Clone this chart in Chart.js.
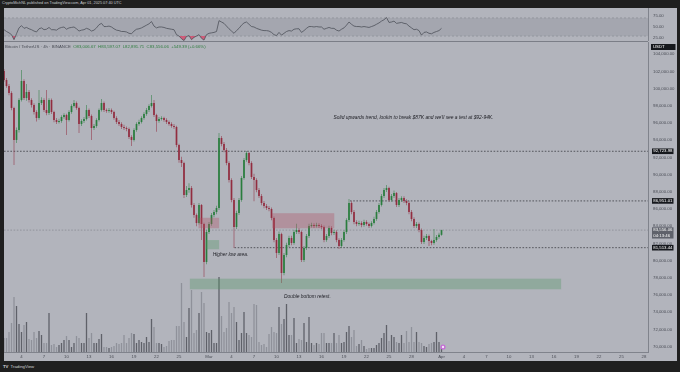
<!DOCTYPE html>
<html lang="en">
<head>
<meta charset="UTF-8" />
<title>BTCUSDT chart</title>
<script src="https://cdn.jsdelivr.net/npm/chart.js@4.4.1/dist/chart.umd.min.js"></script>
<style>
  body { margin:0; width:680px; height:372px; background:#1f1f1f; position:relative; overflow:hidden; font-family:"Liberation Sans", Arial, sans-serif; }
  #pane { position:absolute; left:4px; top:8px; width:673px; height:353px; background:#b2b4bc; }
  #rsi { position:absolute; left:4px; top:8px; }
  #main { position:absolute; left:4px; top:42px; }
  #sep { position:absolute; left:4px; top:41px; width:644px; height:1px; background:#7b7e87; }
  #head { position:absolute; left:2px; top:1px; font-size:3.8px; color:#c8cad0; white-space:nowrap; }
  #legend { position:absolute; left:5px; top:44px; font-size:4.3px; color:#4a4d56; white-space:nowrap; }
  #legend span { color:#2f7d3f; }
  #foot { position:absolute; left:3px; top:364px; font-size:4.3px; color:#cfd1d6; white-space:nowrap; }
  #foot b { font-weight:bold; margin-right:2px; }
</style>
</head>
<body>
<div id="pane"></div>
<div id="head">CryptoMichNL published on TradingView.com, Apr 01, 2025 07:40 UTC</div>
<canvas id="rsi" width="673" height="33"></canvas>
<div id="sep"></div>
<canvas id="main" width="673" height="319"></canvas>
<div id="legend">Bitcoin / TetherUS · 4h · BINANCE &nbsp;<span>O83,006.67 &nbsp;H83,597.07 &nbsp;L82,891.71 &nbsp;C83,556.06 &nbsp;+549.39 (+0.66%)</span></div>
<div id="foot"><b>TV</b>TradingView</div>

<script>
  // bar times are in days counted from Feb 4 2025 00:00 UTC, one bar every 8 hours
  const firstBarDay = -2.3333;
  const barDays = 1 / 3;

  const candleOpen = [
    102060,101010,100310,99500,97760,94040,95200,98690,100900,98920,
    99620,98690,98110,97290,96590,98340,98690,97520,97170,98690,
    97290,96360,96130,96240,96710,96940,96360,97290,97990,98340,
    97760,95900,96240,96480,97520,96830,95430,95660,96360,97520,
    98340,97520,97410,97520,97290,96590,96130,95900,95550,95430,
    95310,94380,94040,95200,95900,96130,96590,97060,97520,97990,
    98340,96940,96240,96480,96590,96360,96130,95900,95660,95550,
    93450,91710,91360,87640,88220,88450,86480,85310,84380,86480,
    84270,79850,83340,84270,85310,85660,86130,94270,93570,92870,
    91360,89380,87060,83920,85550,87060,89620,91710,92520,91360,
    89730,89380,88220,87520,86710,86360,86130,86010,84970,82410,
    80900,83100,78570,80660,81830,82640,82060,83340,83570,83340,
    80080,81480,82870,84040,84150,84040,84150,84040,83920,82410,
    82870,83800,83220,83340,82410,81710,82410,83340,84730,86710,
    85660,84500,84270,84380,84150,84500,84270,84040,84380,84850,
    85660,86480,87520,88220,88450,87060,87520,87870,86480,87060,
    87290,86940,86710,85660,84850,84040,84270,83570,82170,82640,
    82870,82290,82060,82410,82760,83007
  ];
  const candleHigh = [
    102290,101250,100550,99700,97900,95500,98900,102170,101100,100550,
    99850,98900,98300,97500,99850,99000,98900,99850,98900,98850,
    97450,96600,96500,96900,97150,97100,97500,98200,98690,98500,
    97900,96450,96700,98100,97700,97000,95900,96550,97700,98800,
    98500,97700,97750,97700,97450,96800,96350,96100,95800,95600,
    95500,94600,95400,96100,96400,96800,97250,97750,98200,99270,
    98690,97100,96700,96800,96750,96550,96300,96100,95900,95700,
    93600,92100,91500,88700,89000,88700,86700,85500,86700,86600,
    84400,83600,84500,85550,85900,86400,94850,94500,93800,93100,
    91550,89600,87300,85800,87300,89850,91950,92760,92650,91550,
    90100,89600,88450,87750,86950,86600,86350,86200,85150,82650,
    83400,83250,80900,82100,82900,82900,83600,84300,83800,83500,
    81700,83100,84300,84400,84350,84400,84350,84250,84100,83100,
    84050,84000,83600,83550,82600,82650,83550,84950,87170,86900,
    85900,84700,84650,84600,84750,84700,84450,84600,85100,85900,
    86700,87750,88450,88800,88600,87750,88150,88000,87300,87500,
    87500,87150,86900,85900,85050,84500,84450,83750,82900,83100,
    83050,82450,83690,83000,83250,83597
  ];
  const candleLow = [
    100800,100100,99250,97500,91130,93700,94900,98500,98700,98600,
    98400,97800,97000,96200,96400,98100,97300,96900,96950,97050,
    96100,95900,95950,96050,96500,94620,96200,97100,97800,97550,
    94850,95650,96000,96300,96600,94040,95200,95450,96200,97350,
    97300,97200,97200,97050,96400,95900,95650,95300,95200,95050,
    94150,93340,93850,95000,95700,95950,96400,96850,97300,97800,
    96700,95000,96050,96300,96150,95900,95700,95450,95300,93200,
    91400,90900,87300,87400,87900,86200,85000,84000,84200,82410,
    78100,79600,83100,84050,85050,85400,85900,93300,92600,91100,
    89100,86800,81480,83700,85300,86850,89400,91500,91100,89500,
    86900,87950,87300,86450,86100,85900,85750,84700,82150,80300,
    80650,77400,78300,80400,81600,81800,81850,83100,83100,79850,
    79850,81250,82650,83850,83800,83850,83800,83650,82150,82200,
    82650,82950,83000,82150,81360,81500,82200,83100,84500,85400,
    84250,84000,84050,83900,83950,84050,83800,83850,84200,84650,
    85450,86300,87300,88000,86850,86850,87300,86250,86250,86850,
    86700,86450,85400,84600,83800,83800,83300,81950,81950,82400,
    81710,81800,81850,82200,82550,82892
  ];
  const candleClose = [
    101010,100310,99500,97760,94040,95200,98690,100900,98920,99620,
    98690,98110,97290,96590,98340,98690,97520,97170,98690,97290,
    96360,96130,96240,96710,96940,96360,97290,97990,98340,97760,
    95900,96240,96480,97520,96830,95430,95660,96360,97520,98340,
    97520,97410,97520,97290,96590,96130,95900,95550,95430,95310,
    94380,94040,95200,95900,96130,96590,97060,97520,97990,98340,
    96940,96240,96480,96590,96360,96130,95900,95660,95550,93450,
    91710,91360,87640,88220,88450,86480,85310,84380,86480,84270,
    79850,83340,84270,85310,85660,86130,94270,93570,92870,91360,
    89380,87060,83920,85550,87060,89620,91710,92520,91360,89730,
    89380,88220,87520,86710,86360,86130,86010,84970,82410,80900,
    83100,78570,80660,81830,82640,82060,83340,83570,83340,80080,
    81480,82870,84040,84150,84040,84150,84040,83920,82410,82870,
    83800,83220,83340,82410,81710,82410,83340,84730,86710,85660,
    84500,84270,84380,84150,84500,84270,84040,84380,84850,85660,
    86480,87520,88220,88450,87060,87520,87870,86480,87060,87290,
    86940,86710,85660,84850,84040,84270,83570,82170,82640,82870,
    82290,82060,82410,82760,83007,83556.06
  ];
  // volume in BTC per bar
  const volume = [
    2800,2800,4000,5800,11000,9200,5600,4000,5400,6000,
    2600,2400,4000,2800,4200,3400,1800,1800,7800,1400,
    1600,1000,1400,1800,2400,3200,2400,1000,1800,3200,
    2800,1800,1800,7800,2800,3800,1800,1800,2600,3600,
    1000,1000,800,1000,1200,1800,1600,1800,3400,1800,
    2800,3800,3600,1800,2400,2000,1800,3000,2000,6600,
    5000,1800,1800,1600,1000,1200,2200,2400,2400,5200,
    5200,13800,6000,3000,8800,12400,3800,4400,7800,12000,
    9800,4000,3800,4400,1800,1800,15000,7200,4000,4800,
    10000,7800,9000,6000,2400,3800,8000,3800,3400,3000,
    9600,9400,2000,1400,1600,1000,3600,5000,4000,3800,
    9000,5600,6600,9600,3400,3400,6800,1800,2600,2400,
    5800,2000,7000,1800,1400,1800,1600,3800,3800,1800,
    1800,1800,3800,1800,3400,1800,2000,4000,5200,3000,
    4400,1200,1600,2400,1200,600,800,800,800,1400,
    1800,2800,3800,5400,2200,3400,3000,2000,1800,3400,
    1800,4200,2000,5000,2000,4000,2000,1800,1200,1000,
    1600,1800,2000,4000,2000,800
  ];
  const rsi = [
    44,40,37,33,22,35,48,53,47,49,
    46,44,41,39,46,48,44,45,49,44,
    44,43,47,49,50,45,48,49,50,46,
    41,43,44,47,45,41,43,48,55,58,
    51,51,52,50,46,43,42,40,40,39,
    36,35,41,45,46,48,51,54,57,62,
    52,48,50,50,49,47,46,45,44,33,
    30,24,20,29,31,22,27,30,33,25,
    21,33,36,37,38,40,64,61,58,52,
    46,41,36,42,47,54,59,61,56,51,
    50,47,45,43,42,42,41,38,33,31,
    38,32,36,40,42,41,45,46,46,38,
    42,47,51,51,50,51,50,50,45,47,
    49,47,47,43,41,45,48,54,61,56,
    52,51,51,50,51,50,49,51,53,56,
    59,63,66,71,60,61,63,58,59,60,
    58,57,52,48,44,45,42,32,38,39,
    36,35,38,40,42,47
  ];

  const tickDays = [0,3,6,9,12,15,18,21,25,28,31,34,37,40,43,46,49,52,56,59,62,65,68,71,74,77,80,83];
  const tickLabels = ['4','7','10','13','16','19','22','25','Mar','4','7','10','13','16','19','22','25','28','Apr','4','7','10','13','16','19','22','25','28'];
  const priceTicks = [70000,72000,74000,76000,78000,80000,82000,84000,86000,88000,90000,92000,94000,96000,98000,100000,102000,104000];
  const rsiTicks = [25, 50, 75];
  const rsiBand = [30, 70];

  // drawings on the chart (day, price)
  const levelPrice = [92723.98, 86951.01, 81513.44];
  const levelFrom = [-2.3333, 43.8, 28.4];
  const zoneFrom = [33.4, 23.6, 24.55, 22.45];
  const zoneTo = [41.7, 26.35, 26.35, 71.95];
  const zoneTop = [85520, 84990, 82400, 77910];
  const zoneBottom = [83770, 83770, 81330, 76680];
  const zoneKind = ['sell', 'sell', 'buy', 'buy'];
  const noteText = ["Solid upwards trend, lookin to break $87K and we'll see a test at $92-94K.", 'Higher low area.', 'Double bottom retest.'];
  const noteDay = [41.6, 25.5, 35.0];
  const notePrice = [96590, 80660, 75780];
  const eventDay = 56;
  const countdown = '04:13:46';

  const dayMin = -2.3333, dayMax = 83.5333;
  const UP = '#2a7d3e', DOWN = '#922d40';
  const FONT = '"Liberation Sans", Arial, sans-serif';
  Chart.defaults.font.family = FONT;

  const candleDays = candleClose.map((_, i) => firstBarDay + i * barDays);
  const isUp = candleClose.map((c, i) => c >= candleOpen[i]);
  const fmt = v => v.toLocaleString('en-US', { minimumFractionDigits: 2, maximumFractionDigits: 2 });
  const noPad = s => { s.paddingTop = 0; s.paddingBottom = 0; s.paddingLeft = 0; s.paddingRight = 0; };

  // ---------- RSI pane ----------
  const rsiBandPlugin = {
    id: 'rsiBand',
    beforeDatasetsDraw(chart) {
      const { ctx, chartArea: a, scales: { y } } = chart;
      const y1 = y.getPixelForValue(rsiBand[1]), y0 = y.getPixelForValue(rsiBand[0]);
      ctx.save();
      ctx.fillStyle = 'rgba(70,74,90,0.13)';
      ctx.fillRect(a.left, y1, a.right - a.left, y0 - y1);
      ctx.strokeStyle = '#8d9099';
      ctx.lineWidth = 0.8;
      ctx.setLineDash([2, 2]);
      [y0, y1].forEach(p => { ctx.beginPath(); ctx.moveTo(a.left, p); ctx.lineTo(a.right, p); ctx.stroke(); });
      ctx.restore();
    }
  };

  new Chart(document.getElementById('rsi'), {
    type: 'line',
    data: {
      datasets: [{
        data: candleDays.map((d, i) => ({ x: d, y: rsi[i] })),
        borderColor: '#4e5159',
        borderWidth: 0.8,
        pointRadius: 0,
        tension: 0,
        fill: { target: { value: rsiBand[0] }, above: 'rgba(0,0,0,0)', below: 'rgba(214,70,104,0.8)' }
      }]
    },
    options: {
      responsive: false, animation: false, events: [],
      layout: { padding: 0 },
      plugins: { legend: { display: false }, tooltip: { enabled: false } },
      scales: {
        x: { type: 'linear', min: dayMin, max: dayMax, display: false },
        y: {
          position: 'right', min: 19, max: 92,
          grid: { display: false, drawTicks: false },
          border: { display: true, color: '#80838c', width: 1 },
          afterBuildTicks: s => { s.ticks = rsiTicks.map(v => ({ value: v })); },
          afterFit: s => { s.width = 29; noPad(s); },
          ticks: { padding: 5, color: '#4a4d56', font: { size: 4.3 }, callback: v => v.toFixed(2) }
        }
      }
    },
    plugins: [rsiBandPlugin]
  });

  // ---------- price pane ----------
  const drawings = {
    id: 'drawings',
    beforeDatasetsDraw(chart) {
      const { ctx, chartArea: a, scales: { x, y } } = chart;
      ctx.save();
      ctx.beginPath(); ctx.rect(a.left, a.top, a.right - a.left, a.bottom - a.top); ctx.clip();
      ctx.lineWidth = 0.8;
      ctx.setLineDash([1.6, 1.6]);
      // last price line
      const lp = y.getPixelForValue(candleClose[candleClose.length - 1]);
      ctx.strokeStyle = '#8a8d96';
      ctx.beginPath(); ctx.moveTo(a.left, lp); ctx.lineTo(a.right, lp); ctx.stroke();
      ctx.strokeStyle = '#3c3e44';
      levelPrice.forEach((p, i) => {
        const py = y.getPixelForValue(p);
        ctx.beginPath(); ctx.moveTo(x.getPixelForValue(levelFrom[i]), py); ctx.lineTo(a.right, py); ctx.stroke();
      });
      ctx.restore();
    },
    afterDatasetsDraw(chart) {
      const { ctx, chartArea: a, scales: { x, y } } = chart;
      ctx.save();
      ctx.beginPath(); ctx.rect(a.left, a.top, a.right - a.left, a.bottom - a.top); ctx.clip();
      zoneFrom.forEach((d, i) => {
        ctx.fillStyle = zoneKind[i] === 'sell' ? 'rgba(176,78,98,0.34)' : 'rgba(78,150,96,0.34)';
        const x0 = x.getPixelForValue(d), x1 = x.getPixelForValue(zoneTo[i]);
        const y0 = y.getPixelForValue(zoneTop[i]), y1 = y.getPixelForValue(zoneBottom[i]);
        ctx.fillRect(x0, y0, x1 - x0, y1 - y0);
      });
      ctx.fillStyle = '#202127';
      ctx.font = 'italic 4.9px ' + FONT;
      ctx.textBaseline = 'middle';
      noteText.forEach((t, i) => ctx.fillText(t, x.getPixelForValue(noteDay[i]), y.getPixelForValue(notePrice[i])));
      // event marker
      const ex = x.getPixelForValue(eventDay) + 1.5, ey = a.bottom - 5;
      ctx.fillStyle = '#c46bd6';
      ctx.beginPath(); ctx.arc(ex, ey, 2.6, 0, Math.PI * 2); ctx.fill();
      ctx.fillStyle = '#f2e6f5';
      ctx.beginPath(); ctx.arc(ex, ey, 1.2, 0, Math.PI * 2); ctx.fill();
      ctx.restore();
    },
    afterDraw(chart) {
      const { ctx, chartArea: a, scales: { y } } = chart;
      const bx = y.left + 4, bw = 21.5;
      ctx.save();
      ctx.font = '4.3px ' + FONT;
      ctx.textBaseline = 'middle';
      const tag = (py, lines, bg) => {
        const h = 5.6 * lines.length;
        ctx.fillStyle = bg;
        ctx.fillRect(bx, py - 2.8, bw, h);
        ctx.fillStyle = '#ffffff';
        lines.forEach((t, k) => ctx.fillText(t, bx + 1.3, py + k * 5.4));
      };
      ctx.fillStyle = '#16181d';
      ctx.fillRect(bx - 1, a.top + 2, bw + 3, 6);
      ctx.fillStyle = '#ffffff';
      ctx.fillText('USDT', bx + 1, a.top + 5);
      levelPrice.forEach(p => tag(y.getPixelForValue(p), [fmt(p)], '#16181d'));
      const last = candleClose[candleClose.length - 1];
      tag(y.getPixelForValue(last), [fmt(last), countdown], '#5f626b');
      ctx.restore();
    }
  };

  new Chart(document.getElementById('main'), {
    type: 'bar',
    data: {
      datasets: [
        {
          label: 'body',
          data: candleDays.map((d, i) => ({ x: d, y: [candleOpen[i], candleClose[i]] })),
          backgroundColor: isUp.map(u => u ? UP : DOWN),
          barThickness: 1.7, minBarLength: 0.7, inflateAmount: 0, grouped: false, order: 1
        },
        {
          label: 'wick',
          data: candleDays.map((d, i) => ({ x: d, y: [candleLow[i], candleHigh[i]] })),
          backgroundColor: isUp.map(u => u ? 'rgba(42,125,62,0.75)' : 'rgba(146,45,64,0.75)'),
          barThickness: 0.7, inflateAmount: 0, grouped: false, order: 2
        },
        {
          label: 'volume',
          yAxisID: 'vol',
          data: candleDays.map((d, i) => ({ x: d, y: volume[i] })),
          backgroundColor: isUp.map(u => u ? '#5f6169' : '#8f919a'),
          barThickness: 1.3, inflateAmount: 0, grouped: false, order: 3
        }
      ]
    },
    options: {
      responsive: false, animation: false, events: [],
      layout: { padding: 0 },
      plugins: { legend: { display: false }, tooltip: { enabled: false } },
      scales: {
        x: {
          type: 'linear', min: dayMin, max: dayMax, offset: false,
          grid: { display: false, drawTicks: false },
          border: { display: true, color: '#80838c', width: 1 },
          afterBuildTicks: s => { s.ticks = tickDays.map(v => ({ value: v })); },
          afterFit: s => { s.height = 9; noPad(s); },
          ticks: { autoSkip: false, maxRotation: 0, padding: 2, color: '#4a4d56', font: { size: 4.3 },
                   callback: v => tickLabels[tickDays.indexOf(v)] }
        },
        y: {
          position: 'right', min: 69384, max: 105430,
          grid: { display: false, drawTicks: false },
          border: { display: true, color: '#80838c', width: 1 },
          afterBuildTicks: s => { s.ticks = priceTicks.map(v => ({ value: v })); },
          afterFit: s => { s.width = 29; noPad(s); },
          ticks: { autoSkip: false, padding: 5, color: '#4a4d56', font: { size: 4.3 }, callback: v => fmt(v) }
        },
        vol: { type: 'linear', display: false, min: 0, max: 62000 }
      }
    },
    plugins: [drawings]
  });
</script>
</body>
</html>
